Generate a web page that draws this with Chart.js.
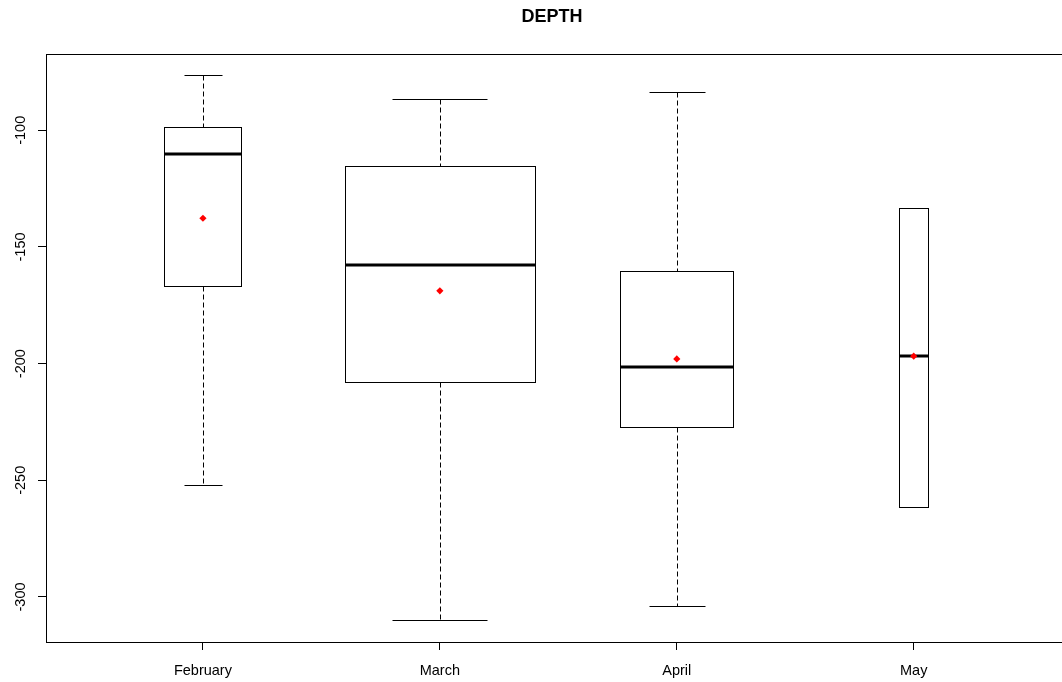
<!DOCTYPE html>
<html>
<head>
<meta charset="utf-8">
<script src="https://cdn.jsdelivr.net/npm/chart.js@4/dist/chart.umd.min.js"></script>
<style>
  body { margin: 0; background: #fff; }
  #wrap { width: 1062px; height: 682px; }
</style>
</head>
<body>
<div id="wrap"><canvas id="myChart" width="1062" height="682"></canvas></div>
<script>
// depth per month (boxplot stats)
let months = ['February', 'March', 'April', 'May'];
let counts = [14, 85, 30, 2];           // box width ~ sqrt(n)
let whiskHigh = [-76.4, -86.7, -83.4, -133.4];
let q3 = [-98.5, -115.5, -160.3, -133.4];
let median = [-110.3, -157.7, -201.4, -196.8];
let q1 = [-166.7, -207.8, -227.1, -261.3];
let whiskLow = [-251.9, -309.7, -303.7, -261.3];
let means = [-137.7, -168.8, -198.0, -196.8];
let yTicks = [-300, -250, -200, -150, -100];

const FONT = "'Liberation Sans', Arial, sans-serif";
let maxN = Math.max(...counts);

// boxes, whiskers, medians + the frame
const boxPlugin = {
    id: 'boxes',
    beforeDatasetsDraw(chart) {
        const ctx = chart.ctx;
        const xs = chart.scales.x;
        const ys = chart.scales.y;
        const a = chart.chartArea;
        const px = v => Math.round(v) + 0.5;
        ctx.save();
        ctx.strokeStyle = '#000';
        ctx.lineWidth = 1;
        months.forEach((m, i) => {
            const cx = xs.getPixelForValue(i + 1);
            const hw = 0.4 * Math.sqrt(counts[i] / maxN) * (xs.getPixelForValue(2) - xs.getPixelForValue(1));
            const l = px(cx - hw), r = px(cx + hw);
            const top = px(ys.getPixelForValue(q3[i]));
            const bot = px(ys.getPixelForValue(q1[i]));
            const hi = px(ys.getPixelForValue(whiskHigh[i]));
            const lo = px(ys.getPixelForValue(whiskLow[i]));
            const c = px(cx);

            // whiskers
            ctx.setLineDash([5, 3]);
            ctx.beginPath();
            ctx.moveTo(c, hi); ctx.lineTo(c, top);
            ctx.moveTo(c, bot); ctx.lineTo(c, lo);
            ctx.stroke();
            ctx.setLineDash([]);
            // staples
            ctx.beginPath();
            ctx.moveTo(px(cx - hw / 2), hi); ctx.lineTo(px(cx + hw / 2), hi);
            ctx.moveTo(px(cx - hw / 2), lo); ctx.lineTo(px(cx + hw / 2), lo);
            ctx.stroke();
            // box
            ctx.fillStyle = '#fff';
            ctx.fillRect(l, top, r - l, bot - top);
            ctx.strokeRect(l, top, r - l, bot - top);
            // median
            ctx.lineWidth = 3;
            ctx.beginPath();
            const my = Math.round(ys.getPixelForValue(median[i]));
            ctx.moveTo(l, my); ctx.lineTo(r, my);
            ctx.stroke();
            ctx.lineWidth = 1;
        });
        // frame
        ctx.strokeRect(px(a.left), px(a.top), Math.round(a.right - a.left) + 5, Math.round(a.bottom - a.top));
        ctx.restore();
    }
};

var myChart = new Chart(document.getElementById('myChart'), {
    type: 'scatter',
    data: {
        datasets: [{
            label: 'mean',
            data: means.map((v, i) => ({ x: i + 1, y: v })),
            pointStyle: 'rectRot',
            pointRadius: 3.6,
            backgroundColor: '#ff0000',
            borderColor: '#ff0000',
            borderWidth: 0
        }]
    },
    options: {
        responsive: false,
        animation: false,
        layout: { padding: 0 },
        plugins: {
            legend: { display: false },
            tooltip: { enabled: false },
            title: {
                display: true,
                text: 'DEPTH',
                color: '#000',
                fullSize: false,
                font: { family: FONT, size: 18, weight: 'bold', lineHeight: 1.2 },
                padding: { top: 6, bottom: 26.4 }
            }
        },
        scales: {
            x: {
                type: 'linear',
                min: 0.3376,
                max: 4.609,
                afterFit(scale) { scale.height = 40; },
                afterBuildTicks(scale) { scale.ticks = months.map((m, i) => ({ value: i + 1 })); },
                ticks: {
                    color: '#000',
                    padding: 12,
                    maxRotation: 0,
                    font: { family: FONT, size: 14.5 },
                    callback: v => months[v - 1]
                },
                grid: { drawOnChartArea: false, drawTicks: true, tickLength: 8, color: '#000' },
                border: { display: false }
            },
            y: {
                min: -319.3,
                max: -67.3,
                afterFit(scale) { scale.width = 46; },
                afterBuildTicks(scale) { scale.ticks = yTicks.map(v => ({ value: v })); },
                ticks: {
                    color: '#000',
                    padding: 2,
                    minRotation: 90,
                    maxRotation: 90,
                    crossAlign: 'center',
                    font: { family: FONT, size: 14.5 }
                },
                grid: { drawOnChartArea: false, drawTicks: true, tickLength: 8, color: '#000' },
                border: { display: false }
            }
        }
    },
    plugins: [boxPlugin]
});
</script>
</body>
</html>
